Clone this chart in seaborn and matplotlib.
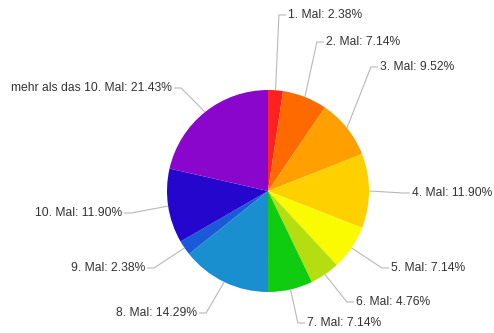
import numpy as np
import matplotlib
matplotlib.use("Agg")
import matplotlib.pyplot as plt
import seaborn as sns

# Share of answers per category (percent)
categories = ["1. Mal", "2. Mal", "3. Mal", "4. Mal", "5. Mal", "6. Mal",
              "7. Mal", "8. Mal", "9. Mal", "10. Mal", "mehr als das 10. Mal"]
shares = [2.38, 7.14, 9.52, 11.90, 7.14, 4.76, 7.14, 14.29, 2.38, 11.90, 21.43]

colors = ["#ff2020", "#ff6a00", "#ff9f00", "#ffd000", "#fafa00", "#b4de10",
          "#10cc10", "#1a8fd0", "#1a5ad8", "#2406cc", "#8a06cc"]

# Label anchor points in units of the pie radius, and horizontal alignment
label_xy = [(0.198, 1.743), (0.574, 1.475), (1.109, 1.228), (1.426, -0.020),
            (1.218, -0.762), (0.871, -1.099), (0.386, -1.307), (-0.703, -1.208),
            (-1.218, -0.762), (-1.446, -0.218), (-0.950, 1.020)]

sns.set_theme(style="white")
plt.rcParams["font.family"] = ["Liberation Sans", "DejaVu Sans"]

W, H, DPI = 494, 333, 100
R_PX = 101.0
CX, CY = 268.0, 191.0

fig = plt.figure(figsize=(W / DPI, H / DPI), dpi=DPI)
ax = fig.add_axes([0, 0, 1, 1])

wedges, _ = ax.pie(shares, colors=colors, startangle=90, counterclock=False,
                   radius=1.0, center=(0, 0), frame=True,
                   wedgeprops=dict(linewidth=0))
ax.set_xlim(-CX / R_PX, (W - CX) / R_PX)
ax.set_ylim(-(H - CY) / R_PX, CY / R_PX)
ax.set_aspect("equal")
ax.axis("off")

line_kw = dict(color="#b8b8b8", lw=0.8, solid_capstyle="butt")
for w, cat, val, (tx, ty) in zip(wedges, categories, shares, label_xy):
    mid = np.deg2rad((w.theta1 + w.theta2) / 2)
    ex, ey = np.cos(mid), np.sin(mid)
    right = tx > 0
    elbow_x = tx - 0.09 if right else tx + 0.09
    end_x = tx - 0.02 if right else tx + 0.02
    ax.plot([ex, elbow_x, end_x], [ey, ty, ty], **line_kw)
    ax.text(tx, ty, f"{cat}: {val:.2f}%", ha="left" if right else "right",
            va="center", fontsize=8.7, color="#333333")

fig.savefig("out.png", dpi=DPI)
